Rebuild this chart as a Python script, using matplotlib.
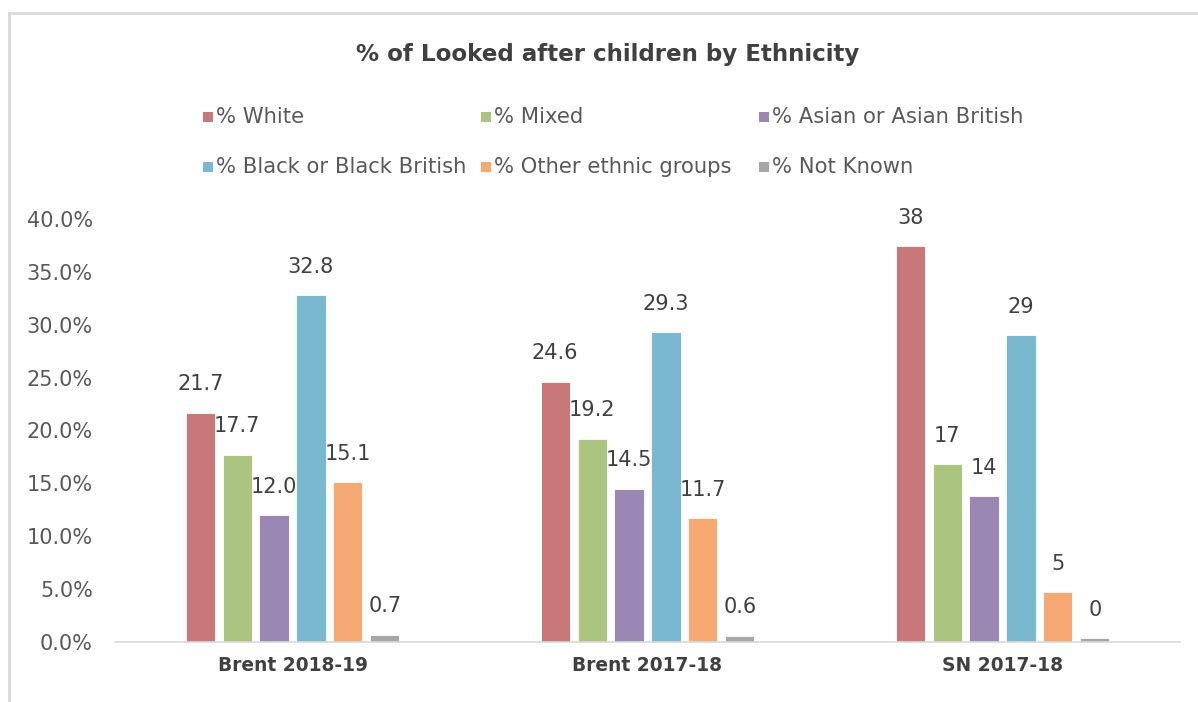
import numpy as np
import matplotlib.pyplot as plt
from matplotlib.lines import Line2D
from matplotlib.patches import Rectangle

groups = ["Brent 2018-19", "Brent 2017-18", "SN 2017-18"]
series = ["% White", "% Mixed", "% Asian or Asian British",
          "% Black or Black British", "% Other ethnic groups", "% Not Known"]
white = [21.7, 24.6, 37.4]
mixed = [17.7, 19.2, 16.8]
asian = [12.0, 14.5, 13.8]
black = [32.8, 29.3, 29.0]
other = [15.1, 11.7, 4.7]
notknown = [0.7, 0.6, 0.35]
labels_white = ["21.7", "24.6", "38"]
labels_mixed = ["17.7", "19.2", "17"]
labels_asian = ["12.0", "14.5", "14"]
labels_black = ["32.8", "29.3", "29"]
labels_other = ["15.1", "11.7", "5"]
labels_notknown = ["0.7", "0.6", "0"]
yticks = [0, 5, 10, 15, 20, 25, 30, 35, 40]

colors = ["#C87879", "#ABC47F", "#9A87B4", "#79B8CE", "#F6A872", "#A6A6A6"]
txt = "#595959"
font = "DejaVu Sans"

values = [white, mixed, asian, black, other, notknown]
labels = [labels_white, labels_mixed, labels_asian, labels_black, labels_other, labels_notknown]

W, H = 1198, 702
fig = plt.figure(figsize=(W / 100, H / 100), dpi=100)
ax = fig.add_axes([115 / W, 1 - 642 / H, 1065 / W, 423 / H])

x = np.arange(len(groups))
pitch = 0.104
width = 0.082
for i, (vals, labs) in enumerate(zip(values, labels)):
    pos = x + (i - 2.5) * pitch
    ax.bar(pos, vals, width, color=colors[i], edgecolor="white", linewidth=0.6, zorder=2)
    for px, v, lab in zip(pos, vals, labs):
        ax.text(px, v + 1.75, lab, ha="center", va="bottom", fontsize=15,
                color="#404040", family=font)

ax.set_xlim(-0.5, 2.5)
ax.set_ylim(0, 40)
ax.set_yticks(yticks)
ax.set_yticklabels(["%.1f%%" % t for t in yticks], fontsize=15, color=txt, family=font)
ax.set_xticks(x)
ax.set_xticklabels(groups, fontsize=13.4, color="#404040", family=font, fontweight="bold")
ax.tick_params(axis="both", length=0)
ax.tick_params(axis="y", pad=16)
ax.tick_params(axis="x", pad=10)
for s in ["top", "right", "left"]:
    ax.spines[s].set_visible(False)
ax.spines["bottom"].set_color("#D9D9D9")
ax.spines["bottom"].set_linewidth(1.2)

fig.text(608 / W, 1 - 55 / H, "% of Looked after children by Ethnicity", ha="center", va="center",
         fontsize=16.6, fontweight="bold", color="#404040", family=font)

# legend laid out row by row like the original
col_x = [203, 481, 759]
row_y = [117, 167]
for i, name in enumerate(series):
    cx = col_x[i % 3]
    cy = row_y[i // 3]
    fig.add_artist(Rectangle((cx / W, 1 - (cy + 5) / H), 10 / W, 10 / H,
                             transform=fig.transFigure, facecolor=colors[i], edgecolor="none"))
    fig.text((cx + 13) / W, 1 - cy / H, name, ha="left", va="center",
             fontsize=15.2, color=txt, family=font)

fig.add_artist(Line2D([0.0075, 0.0075], [0, 0.9815], color="#D9D9D9", lw=2))
fig.add_artist(Line2D([0.0075, 1.0], [0.9815, 0.9815], color="#D9D9D9", lw=2))

fig.savefig("out.png", dpi=100)
